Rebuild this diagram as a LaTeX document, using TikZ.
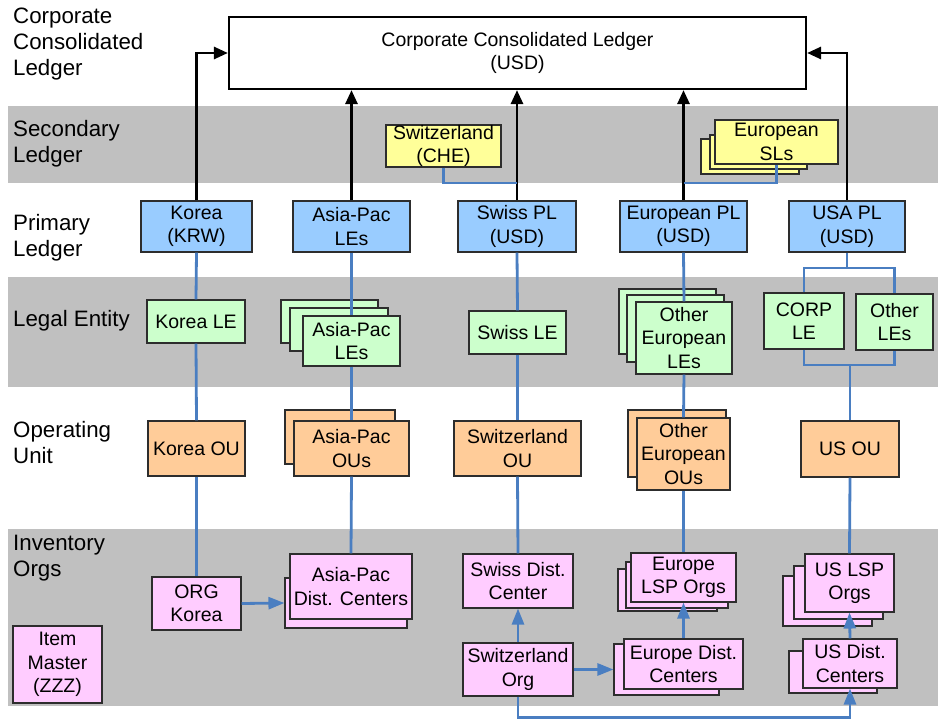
\documentclass[tikz,border=0pt]{standalone}
\usepackage{fontspec}
\setmainfont{Liberation Sans}
\usetikzlibrary{arrows.meta}

\definecolor{bandgray}{RGB}{192,192,192}
\definecolor{plblue}{RGB}{153,204,255}
\definecolor{slyellow}{RGB}{255,255,153}
\definecolor{legreen}{RGB}{204,255,204}
\definecolor{ouorange}{RGB}{255,204,153}
\definecolor{iopink}{RGB}{255,204,255}
\definecolor{linkblue}{RGB}{74,126,193}
\definecolor{boxline}{RGB}{45,45,45}

\newcommand{\boxfont}{\fontsize{19.5}{23.5}\selectfont}
\newcommand{\lblfont}{\fontsize{22.3}{26}\selectfont}

\tikzset{
  box/.style={draw=boxline, line width=1.1pt, inner sep=0pt, align=center, font=\boxfont},
  pl/.style={box, fill=plblue},
  sl/.style={box, fill=slyellow},
  le/.style={box, fill=legreen},
  ou/.style={box, fill=ouorange},
  io/.style={box, fill=iopink},
  sz/.style 2 args={minimum width=#1pt, minimum height=#2pt},
  lbl/.style={anchor=west, align=left, font=\lblfont, inner sep=0pt},
  band/.style={fill=bandgray, draw=none},
  feed/.style={draw=black, line width=2.8pt, -{Triangle[length=14pt,width=12pt]}},
  link/.style={draw=linkblue, line width=2.8pt},
  flow/.style={link, -{Triangle[length=16pt,width=12pt]}},
}

\begin{document}
\begin{tikzpicture}[x=1pt,y=-1pt]
\useasboundingbox (0,0) rectangle (938,719);

% ledger level bands
\fill[band] (8,106) rectangle (938,183);
\fill[band] (8,277) rectangle (938,387);
\fill[band] (8,529) rectangle (938,706);

% level labels
\node[lbl] (lccl) at (13,44)    {Corporate\\Consolidated\\Ledger};
\node[lbl] (lsl)  at (13,144)   {Secondary\\Ledger};
\node[lbl] (lpl)  at (13,238)   {Primary\\Ledger};
\node[lbl] (lle)  at (13,321)   {Legal Entity};
\node[lbl] (lou)  at (13,442.5) {Operating\\Unit};
\node[lbl] (lio)  at (13,558)   {Inventory\\Orgs};

% corporate consolidated ledger
\node[box, draw=black, line width=2.2pt, fill=white, sz={577}{72}] (ccl) at (517.5,53)
  {Corporate Consolidated Ledger\\(USD)};

% secondary ledgers
\node[sl, sz={115}{42}] (swsl) at (443.5,146) {Switzerland\\(CHE)};
\node[sl, sz={98}{35}]  (eusla) at (750,156.5) {};
\node[sl, sz={97}{34}]  (euslb) at (758.5,152) {};
\node[sl, sz={123}{44}] (euslc) at (776.5,142) {European\\SLs};

% primary ledgers
\node[pl, sz={111}{51}] (korpl) at (196.5,226.5) {Korea\\(KRW)};
\node[pl, sz={117}{51}] (appl)  at (351.5,226.5) {Asia-Pac\\LEs};
\node[pl, sz={118}{51}] (swpl)  at (517,226.5)   {Swiss PL\\(USD)};
\node[pl, sz={127}{51}] (eupl)  at (683.5,226.5) {European PL\\(USD)};
\node[pl, sz={116}{51}] (uspl)  at (847,226.5)   {USA PL\\(USD)};

% legal entities
\node[le, sz={98}{43}] (korle) at (196,321.5) {Korea LE};
\node[le, sz={97}{43}] (aplea) at (329.5,321.5) {};
\node[le, sz={98}{43}] (apleb) at (339,329.5) {};
\node[le, sz={97}{50}] (aplec) at (351.5,341) {Asia-Pac\\LEs};
\node[le, sz={97}{43}] (swle)  at (517.5,332.5) {Swiss LE};
\node[le, sz={97}{65}] (eulea) at (667.5,321.5) {};
\node[le, sz={97}{67}] (euleb) at (675.5,328.5) {};
\node[le, sz={96}{72}] (eulec) at (684,338) {Other\\European\\LEs};
\node[le, sz={80}{56}] (corple) at (804,321) {CORP\\LE};
\node[le, sz={77}{56}] (othle)  at (894.5,322) {Other\\LEs};

% operating units
\node[ou, sz={97}{55}]  (korou) at (196.5,448.5) {Korea OU};
\node[ou, sz={110}{54}] (apoua) at (340,437) {};
\node[ou, sz={115}{55}] (apoub) at (351.5,448.5) {Asia-Pac\\OUs};
\node[ou, sz={127}{55}] (swou)  at (517.5,448.5) {Switzerland\\OU};
\node[ou, sz={98}{67}]  (euoua) at (677,443.5) {};
\node[ou, sz={93}{72}]  (euoub) at (683.5,454) {Other\\European\\OUs};
\node[ou, sz={98}{56}]  (usou)  at (850,449) {US OU};

% inventory organizations
\node[io, sz={89}{53}]  (orgkor) at (196.5,603.5) {ORG\\Korea};
\node[io, sz={122}{50}] (apdca)  at (346,603) {};
\node[io, sz={122}{65}] (apdcb)  at (351,586.5) {Asia-Pac\\Dist. Centers};
\node[io, sz={89}{77}]  (item)   at (57.5,664.5) {Item\\Master\\(ZZZ)};
\node[io, sz={110}{54}] (swdc)   at (518,581) {Swiss Dist.\\Center};
\node[io, sz={110}{53}] (sworg)  at (518,669.5) {Switzerland\\Org};
\node[io, sz={99}{42}]  (eulspa) at (667.5,590) {};
\node[io, sz={102}{46}] (eulspb) at (677,585) {};
\node[io, sz={105}{49}] (eulspc) at (683.5,577.5) {Europe\\LSP Orgs};
\node[io, sz={105}{51}] (eudca)  at (666.5,669.5) {};
\node[io, sz={119}{50}] (eudcb)  at (683.5,664) {Europe Dist.\\Centers};
\node[io, sz={89}{50}]  (uslspa) at (827.5,601) {};
\node[io, sz={89}{53}]  (uslspb) at (838.5,592.5) {};
\node[io, sz={89}{58}]  (uslspc) at (849.5,583) {US LSP\\Orgs};
\node[io, sz={88}{42}]  (usdca)  at (833,672) {};
\node[io, sz={94}{49}]  (usdcb)  at (850,663.5) {US Dist.\\Centers};

% junction points
\coordinate (swjoin) at (517,183);
\coordinate (eujoin) at (683.5,183);
\coordinate (ustop)  at (847,268);
\coordinate (usbot)  at (850,365);

% primary ledgers feed the consolidated ledger
\draw[feed] (korpl.north) |- (ccl.west);
\draw[feed] (appl.north) -- (appl.north |- ccl.south);
\draw[feed] (swpl.north) -- (swpl.north |- ccl.south);
\draw[feed] (eupl.north) -- (eupl.north |- ccl.south);
\draw[feed] (uspl.north) |- (ccl.east);

% secondary ledgers
\draw[link] (swsl.south) |- (swjoin);
\draw[link] (euslc.south) |- (eujoin);

% Korea column
\draw[link] (korpl.south) -- (korle.north);
\draw[link] (korle.south) -- (korou.north);
\draw[link] (korou.south) -- (orgkor.north);

% Asia-Pac column
\draw[link] (appl.south) -- (aplec.north);
\draw[link] (aplec.south) -- (apoub.north);
\draw[link] (apoub.south) -- (apdcb.north);

% Swiss column
\draw[link] (swpl.south) -- (swle.north);
\draw[link] (swle.south) -- (swou.north);
\draw[link] (swou.south) -- (swdc.north);

% European column
\draw[link] (eupl.south) -- (eulec.north);
\draw[link] (eulec.south) -- (euoub.north);
\draw[link] (euoub.south) -- (eulspc.north);

% USA column
\draw[link] (uspl.south) -- (ustop);
\draw[link] (corple.north) |- (ustop) -| (othle.north);
\draw[link] (corple.south) |- (usbot) -| (othle.south);
\draw[link] (usbot) -- (usou.north);
\draw[link] (usou.south) -- (uslspc.north);

% inventory flows
\draw[flow] (orgkor.east) -- (apdca.west);
\draw[flow] (sworg.north) -- (swdc.south);
\draw[flow] (sworg.east) -- (eudca.west);
\draw[flow] (eudcb.north) -- (eulspc.south);
\draw[flow] (usdcb.north) -- (uslspc.south);
\draw[flow] (sworg.south) -- ++(0,21) -| (usdcb.south);
\end{tikzpicture}
\end{document}
